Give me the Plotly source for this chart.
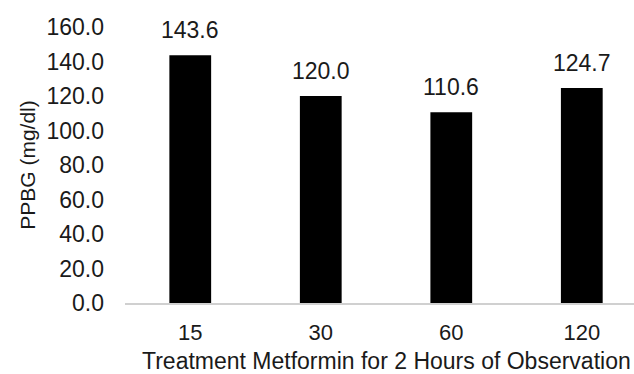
import plotly.graph_objects as go

# Post-prandial blood glucose after metformin treatment, by minute of observation
minutes = ["15", "30", "60", "120"]
ppbg = [143.6, 120.0, 110.6, 124.7]
y_ticks = [0, 20, 40, 60, 80, 100, 120, 140, 160]

FONT = "Liberation Sans, Arial, sans-serif"
TEXT = "#1a1a1a"

fig = go.Figure()
fig.add_trace(go.Bar(
    x=minutes,
    y=ppbg,
    width=0.32,
    marker=dict(color="#000000", line=dict(width=0)),
    hoverinfo="skip",
))

# value labels above each bar (category axis: position by index)
for i, v in enumerate(ppbg):
    fig.add_annotation(
        x=i, y=v, xref="x", yref="y",
        text=f"{v:.1f}", showarrow=False,
        yanchor="bottom", yshift=10,
        font=dict(family=FONT, size=23, color=TEXT),
    )

# x-axis title, centred on the full category band
fig.add_annotation(
    x=(386 - 125) / 509, y=0, xref="paper", yref="paper",
    text="Treatment Metformin for 2 Hours of Observation",
    showarrow=False, yanchor="middle", yshift=-58,
    font=dict(family=FONT, size=23, color=TEXT),
)

fig.update_layout(
    width=634, height=374,
    margin=dict(l=125, r=0, t=27, b=71),
    paper_bgcolor="white", plot_bgcolor="white",
    showlegend=False,
    bargap=0.68,
    font=dict(family=FONT, size=22, color=TEXT),
    xaxis=dict(
        type="category",
        range=[-0.5, 3.4],
        showline=True, linecolor="#d0d0d0", linewidth=1.5,
        showgrid=False, ticks="", ticklabelstandoff=9,
        tickfont=dict(family=FONT, size=22, color=TEXT),
        fixedrange=True,
    ),
    yaxis=dict(
        range=[0, 160],
        tickvals=y_ticks,
        ticktext=[f"{t:.1f}" for t in y_ticks],
        showgrid=False, zeroline=False, showline=False,
        ticks="", ticklabelstandoff=20,
        tickfont=dict(family=FONT, size=23, color=TEXT),
        title=dict(text="PPBG (mg/dl)", standoff=5,
                   font=dict(family=FONT, size=21, color=TEXT)),
        fixedrange=True,
    ),
)

fig.write_html("out.html")
